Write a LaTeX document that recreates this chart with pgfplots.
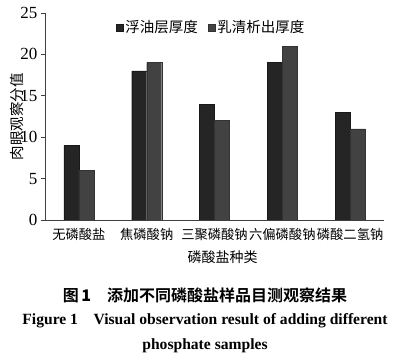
\documentclass[border=0pt]{standalone}
\usepackage{pgfplots}
\pgfplotsset{compat=1.18}
\usepackage{fontspec}
\setmainfont{Liberation Serif}
\newfontfamily\cjk{Noto Sans CJK SC}
\newfontfamily\cjkb{Noto Sans CJK SC Bold}
\definecolor{barA}{HTML}{252525}
\definecolor{barB}{HTML}{424242}
\begin{document}
\begin{tikzpicture}
\useasboundingbox (-45bp,-141bp) rectangle (358bp,220bp);
\begin{axis}[
  at={(0,0)}, anchor=south west,
  scale only axis, width=339bp, height=207bp,
  ybar=0pt, bar width=15bp,
  xmin=-0.5, xmax=4.5, ymin=0, ymax=25,
  ytick={0,5,10,15,20,25},
  xtick={0,1,2,3,4},
  xticklabels={无磷酸盐,焦磷酸钠,三聚磷酸钠,六偏磷酸钠,磷酸二氢钠},
  x tick label style={font=\cjk\fontsize{13.3bp}{16bp}\selectfont, yshift=-1bp},
  y tick label style={font=\fontsize{17bp}{19bp}\selectfont},
  /pgf/number format/assume math mode=true,
  axis x line=bottom, axis y line=left,
  axis line style={-, black!75, line width=0.8bp},
  xtick style={draw=none},
  ytick style={black!75, line width=0.8bp},
  tick align=outside, major tick length=4bp,
  xlabel={磷酸盐种类},
  xlabel style={font=\cjk\fontsize{14bp}{16bp}\selectfont, at={(axis description cs:0.5,0)}, anchor=center, xshift=8bp, yshift=-37bp},
  ylabel={肉眼观察分值},
  ylabel style={font=\cjk\fontsize{14.5bp}{16bp}\selectfont, at={(axis description cs:0,0.5)}, anchor=center, xshift=0bp, yshift=28bp},
  legend style={at={(0.49,0.975)}, anchor=north, draw=none, fill=none,
    legend columns=2, font=\cjk\fontsize{14.5bp}{16bp}\selectfont,
    /tikz/every even column/.append style={column sep=8bp},
    inner sep=0pt},
  legend image code/.code={\fill[#1] (0bp,-3.5bp) rectangle (7bp,3.5bp);},
]
\addplot[fill=barA, draw=black!90] coordinates {(0,9) (1,18) (2,14) (3,19) (4,13)};
\addplot[fill=barB, draw=black!80] coordinates {(0,6) (1,19) (2,12) (3,21) (4,11)};
\legend{浮油层厚度,乳清析出厚度}
\end{axis}
\node[font=\cjkb\fontsize{16bp}{19bp}\selectfont] at (160bp,-75bp) {图\,\textbf{1}\quad 添加不同磷酸盐样品目测观察结果};
\node[font=\bfseries\fontsize{15.6bp}{18bp}\selectfont] at (160bp,-101bp) {Figure 1\quad Visual observation result of adding different};
\node[font=\bfseries\fontsize{15.6bp}{18bp}\selectfont] at (160bp,-126bp) {phosphate samples};
\end{tikzpicture}
\end{document}
